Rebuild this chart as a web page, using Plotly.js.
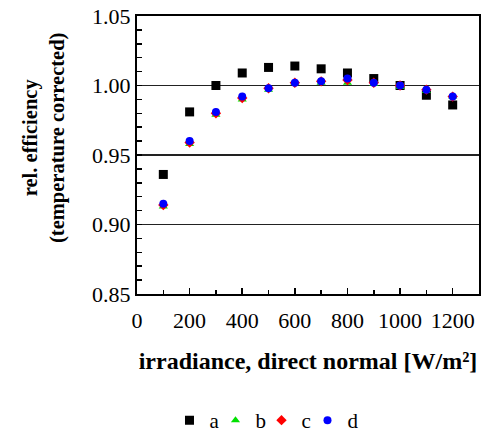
<!DOCTYPE html>
<html><head><meta charset="utf-8">
<script src="https://cdn.plot.ly/plotly-3.0.1.min.js"></script>
<style>html,body{margin:0;padding:0;background:#fff}#chart{width:486px;height:437px}</style>
</head><body><div id="chart"></div>
<script>
const irradiance = [100,200,300,400,500,600,700,800,900,1000,1100,1200];
const seriesA = [0.936,0.981,1.000,1.009,1.013,1.014,1.012,1.009,1.005,1.000,0.993,0.986];
const seriesB = [0.913,0.958,0.979,0.990,0.997,1.002,1.002,1.002,1.001,0.999,0.996,0.992];
const seriesC = [0.914,0.959,0.980,0.991,0.998,1.002,1.003,1.004,1.002,1.000,0.997,0.992];
const seriesD = [0.915,0.960,0.981,0.992,0.998,1.002,1.003,1.005,1.002,1.000,0.997,0.992];
const names = ['a','b','c','d'];
const font = "'Liberation Serif', 'Times New Roman', serif";
const traces = [
  {x: irradiance, y: seriesA, name: names[0], legendwidth:1, mode:'markers', type:'scatter', marker:{symbol:'square', size:9, color:'#000'}},
  {x: irradiance, y: seriesB, name: names[1], legendwidth:1, mode:'markers', type:'scatter', marker:{symbol:'triangle-up', size:8, color:'#00e000'}},
  {x: irradiance, y: seriesC, name: names[2], legendwidth:1, mode:'markers', type:'scatter', marker:{symbol:'diamond', size:8, color:'#ff0000'}},
  {x: irradiance, y: seriesD, name: names[3], legendwidth:14, mode:'markers', type:'scatter', marker:{symbol:'circle', size:8, color:'#0000ff'}}
];
const layout = {
  width:486, height:437,
  margin:{l:137, r:7, t:16, b:143, autoexpand:false},
  paper_bgcolor:'#fff', plot_bgcolor:'#fff',
  font:{family:font, size:21, color:'#000'},
  showlegend:true,
  legend:{orientation:'h', x:0.095, xanchor:'left', y:-0.455, yanchor:'middle', font:{family:font, size:21},
    itemwidth:30, entrywidthmode:'pixels', tracegroupgap:0, bgcolor:'rgba(0,0,0,0)'},
  xaxis:{range:[0,1300], tickvals:[0,200,400,600,800,1000,1200], ticks:'inside', ticklen:6, tickcolor:'#000', tickwidth:1.5,
    minor:{dtick:100, ticks:'inside', ticklen:4, tickcolor:'#000', tickwidth:1.5, showgrid:false},
    showline:true, linecolor:'#000', linewidth:2, mirror:true, showgrid:false, zeroline:false,
    tickfont:{family:font, size:22}, ticklabelstandoff:6,
    title:{text:'<b>irradiance, direct normal [W/m²]</b>', font:{family:font, size:24}, standoff:20}},
  yaxis:{range:[0.85,1.05], tickvals:[0.85,0.90,0.95,1.00,1.05], ticktext:['0.85','0.90','0.95','1.00','1.05'],
    ticks:'inside', ticklen:5, tickcolor:'#000', tickwidth:1.5,
    minor:{dtick:0.01, ticks:'inside', ticklen:5, tickcolor:'#000', tickwidth:1.5, showgrid:false},
    showline:true, linecolor:'#000', linewidth:2, mirror:true, showgrid:true, gridcolor:'#222', gridwidth:1.5, zeroline:false,
    tickfont:{family:font, size:22}},
  annotations:[{text:'<b>rel. efficiency<br>(temperature corrected)</b>', xref:'paper', yref:'paper', x:-0.27, y:0.56,
    xanchor:'center', yanchor:'middle', textangle:-90, showarrow:false, font:{family:font, size:20.5, color:'#000'}}]
};
Plotly.newPlot('chart', traces, layout, {displayModeBar:false, staticPlot:true});
</script></body></html>
